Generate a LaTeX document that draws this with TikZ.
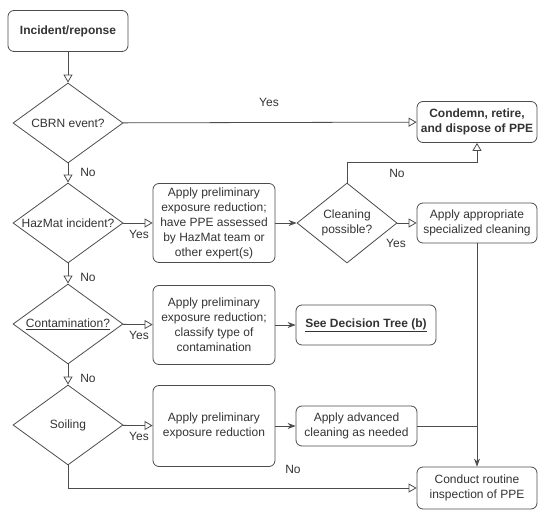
\documentclass[tikz,border=0pt]{standalone}
\usepackage{fontspec}
\setmainfont{Liberation Sans}
\usetikzlibrary{shapes.geometric, arrows.meta}

\tikzset{
    box/.style={draw=black!70, line width=0.8pt, rounded corners=6pt, align=center, inner sep=2pt},
    decision/.style={diamond, draw=black!70, line width=0.8pt, inner sep=0pt},
    lbl/.style={inner sep=1pt},
    hollowarrow/.style={-{Triangle[open, length=8pt, width=9pt]}},
    fullarrow/.style={-{Stealth[length=8pt, width=6pt]}}
}

\begin{document}
\begin{tikzpicture}[x=1pt, y=-1pt, font=\fontsize{12}{15}\selectfont, text=black!80, line width=0.8pt, draw=black!70]
    \useasboundingbox (0,0) rectangle (538,510);
    \node [box, minimum width=120pt, minimum height=41pt, font=\fontsize{12}{15}\selectfont\bfseries] (start) at (68,31) {Incident/reponse};
    \node [decision, minimum width=110pt, minimum height=80pt, label=center:{CBRN event?}] (cbrn) at (68,123) {};
    \node [decision, minimum width=110pt, minimum height=80pt, label=center:{HazMat incident?}] (hazmat) at (68,223) {};
    \node [decision, minimum width=110pt, minimum height=80pt, label=center:{\underline{Contamination?}}] (contam) at (68,324) {};
    \node [decision, minimum width=110pt, minimum height=80pt, label=center:{Soiling}] (soiling) at (68,425) {};
    \node [box, minimum width=120pt, minimum height=41pt, font=\fontsize{12}{15}\selectfont\bfseries] (condemn) at (477,122) {Condemn, retire,\\and dispose of PPE};
    \node [box, minimum width=122pt, minimum height=79pt] (prelima) at (214,223) {Apply preliminary\\exposure reduction;\\have PPE assessed\\by HazMat team or\\other expert(s)};
    \node [decision, minimum width=100pt, minimum height=80pt, label={[align=center]center:Cleaning\\possible?}] (clean) at (347,223) {};
    \node [box, minimum width=120pt, minimum height=40pt] (special) at (477,223) {Apply appropriate\\specialized cleaning};
    \node [box, minimum width=122pt, minimum height=79pt] (prelimb) at (214,325) {Apply preliminary\\exposure reduction;\\classify type of\\contamination};
    \node [box, minimum width=140pt, minimum height=40pt, font=\fontsize{12}{15}\selectfont\bfseries] (tree) at (366,325) {\underline{See Decision Tree (b)}};
    \node [box, minimum width=122pt, minimum height=81pt] (prelimc) at (214,426) {Apply preliminary\\exposure reduction};
    \node [box, minimum width=121pt, minimum height=40pt] (advanced) at (356.5,426) {Apply advanced\\cleaning as needed};
    \node [box, minimum width=120pt, minimum height=42pt] (routine) at (477,488) {Conduct routine\\inspection of PPE};
    \coordinate (nobend) at (347,162);
    \draw [hollowarrow] (start) -- (cbrn);
    \draw [hollowarrow] (cbrn) -- (condemn);
    \draw [hollowarrow] (cbrn) -- (hazmat);
    \draw [hollowarrow] (hazmat) -- (prelima);
    \draw [hollowarrow] (hazmat) -- (contam);
    \draw [hollowarrow] (contam) -- (prelimb);
    \draw [hollowarrow] (contam) -- (soiling);
    \draw [hollowarrow] (soiling) -- (prelimc);
    \draw [hollowarrow] (soiling.south) |- (routine.west);
    \draw [fullarrow] (prelima) -- (clean);
    \draw [hollowarrow] (clean) -- (special);
    \draw [hollowarrow] (clean.north) -- (nobend) -| (condemn.south);
    \draw [fullarrow] (prelimb) -- (tree);
    \draw [fullarrow] (prelimc) -- (advanced);
    \draw [fullarrow] (special) -- (routine);
    \draw (advanced.east) -- (advanced.east -| special.south);
    \node [lbl] (yescbrn) at (269,102) {Yes};
    \node [lbl] (nocbrn) at (88,172) {No};
    \node [lbl] (yeshaz) at (139,234) {Yes};
    \node [lbl] (nohaz) at (88,277) {No};
    \node [lbl] (yescon) at (139,335) {Yes};
    \node [lbl] (nocon) at (88,378) {No};
    \node [lbl] (yessoil) at (139,436) {Yes};
    \node [lbl] (nosoil) at (293,469) {No};
    \node [lbl] (yesclean) at (396,243) {Yes};
    \node [lbl] (noclean) at (397,173) {No};
\end{tikzpicture}
\end{document}
